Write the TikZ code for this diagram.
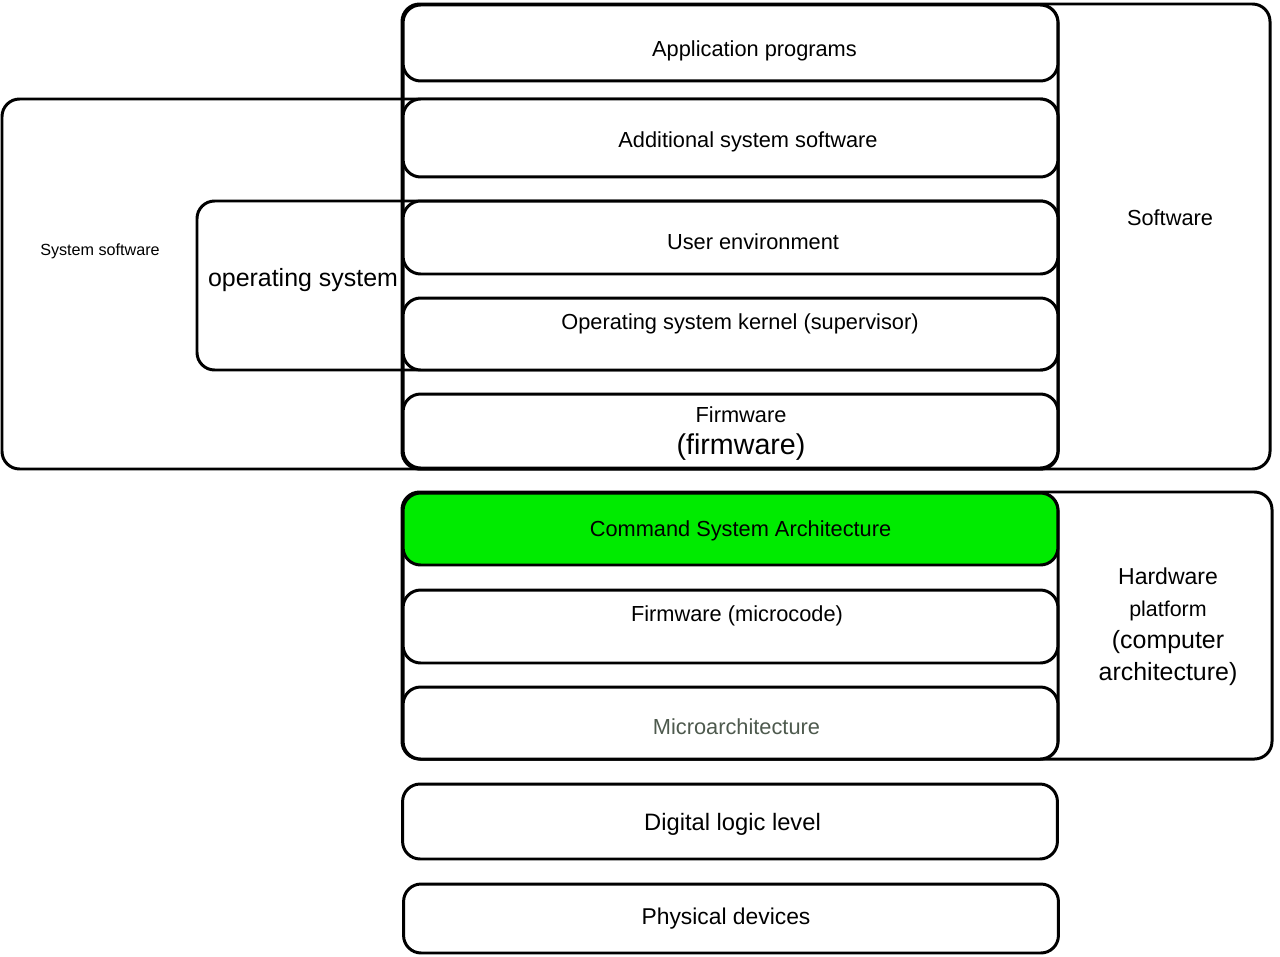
\documentclass[tikz,border=0pt]{standalone}
\usepackage{fontspec}
\setmainfont{Liberation Sans}
\definecolor{isagreen}{RGB}{0,235,0}
\definecolor{microgray}{RGB}{78,90,78}
\tikzset{
  frame/.style={line width=1.7pt, rounded corners=10pt},
  layer/.style={draw, line width=1.7pt, rounded corners=10pt, fill=white,
    minimum width=13.1cm, inner sep=0pt},
  lvl/.style={font=\fontsize{12.4}{15}\selectfont, inner sep=1pt, yshift=-1.5pt}
}
\begin{document}
\begin{tikzpicture}[x=0.02cm, y=-0.02cm]
  \useasboundingbox (0,0) rectangle (1280,956);

  % Grouping frames
  \draw[frame] (2,99) rectangle (1058,469);
  \draw[frame] (402,4) rectangle (1270,469);
  \draw[frame] (197,201) rectangle (1058,370);
  \draw[frame] (402,492) rectangle (1272,759);
  \draw[frame] (403,5) rectangle (1058,469);
  \draw[frame] (403,493) rectangle (1058,759);

  % Software layers
  \node[layer, minimum height=1.52cm] (app) at (730.5,43) {};
  \node[lvl] (apptxt) at (754.5,48) {Application programs};
  \node[layer, minimum height=1.56cm] (addsys) at (730.5,138) {};
  \node[lvl] (addsystxt) at (748,139) {Additional system software};
  \node[layer, minimum height=1.46cm] (userenv) at (730.5,237.5) {};
  \node[lvl] (userenvtxt) at (753,239) {User environment};
  \node[layer, minimum height=1.44cm] (kernel) at (730.5,334) {};
  \node[lvl] (kerneltxt) at (740,321) {Operating system kernel (supervisor)};
  \node[layer, minimum height=1.48cm] (fw) at (730.5,431) {};
  \node[lvl, align=center] (fwtxt) at (741,431)
    {Firmware\\[3pt]{\fontsize{16.3}{18}\selectfont (firmware)}};

  % Hardware platform layers
  \node[layer, fill=isagreen, minimum height=1.44cm] (isa) at (730.5,529) {};
  \node[lvl] (isatxt) at (740.5,528) {Command System Architecture};
  \node[layer, minimum height=1.46cm] (micro) at (730.5,626.5) {};
  \node[lvl] (microtxt) at (737,613) {Firmware (microcode)};
  \node[layer, minimum height=1.44cm] (march) at (730.5,723) {};
  \node[lvl, text=microgray] (marchtxt) at (736.5,724) {Microarchitecture};

  % Lower levels
  \node[layer, minimum height=1.5cm] (digital) at (730,821.5) {};
  \node[lvl, font=\fontsize{13.5}{16}\selectfont] (digitaltxt) at (732.5,822) {Digital logic level};
  \node[layer, minimum height=1.38cm] (phys) at (731,918.5) {};
  \node[lvl, font=\fontsize{13}{16}\selectfont] (phystxt) at (726,916) {Physical devices};

  % Group labels
  \node[font=\fontsize{9.2}{11}\selectfont, yshift=-1pt] (syslbl) at (100,250) {System software};
  \node[font=\fontsize{14.2}{17}\selectfont, yshift=-1.5pt] (oslbl) at (303,277) {operating system};
  \node[lvl] (swlbl) at (1170,215) {Software};
  \node[align=center, font=\fontsize{14.2}{18.1}\selectfont, yshift=-1.5pt] (hwlbl) at (1168,624)
    {{\fontsize{13.1}{18.1}\selectfont Hardware}\\
     {\fontsize{12.2}{18.1}\selectfont platform}\\
     (computer\\ architecture)};
\end{tikzpicture}
\end{document}
